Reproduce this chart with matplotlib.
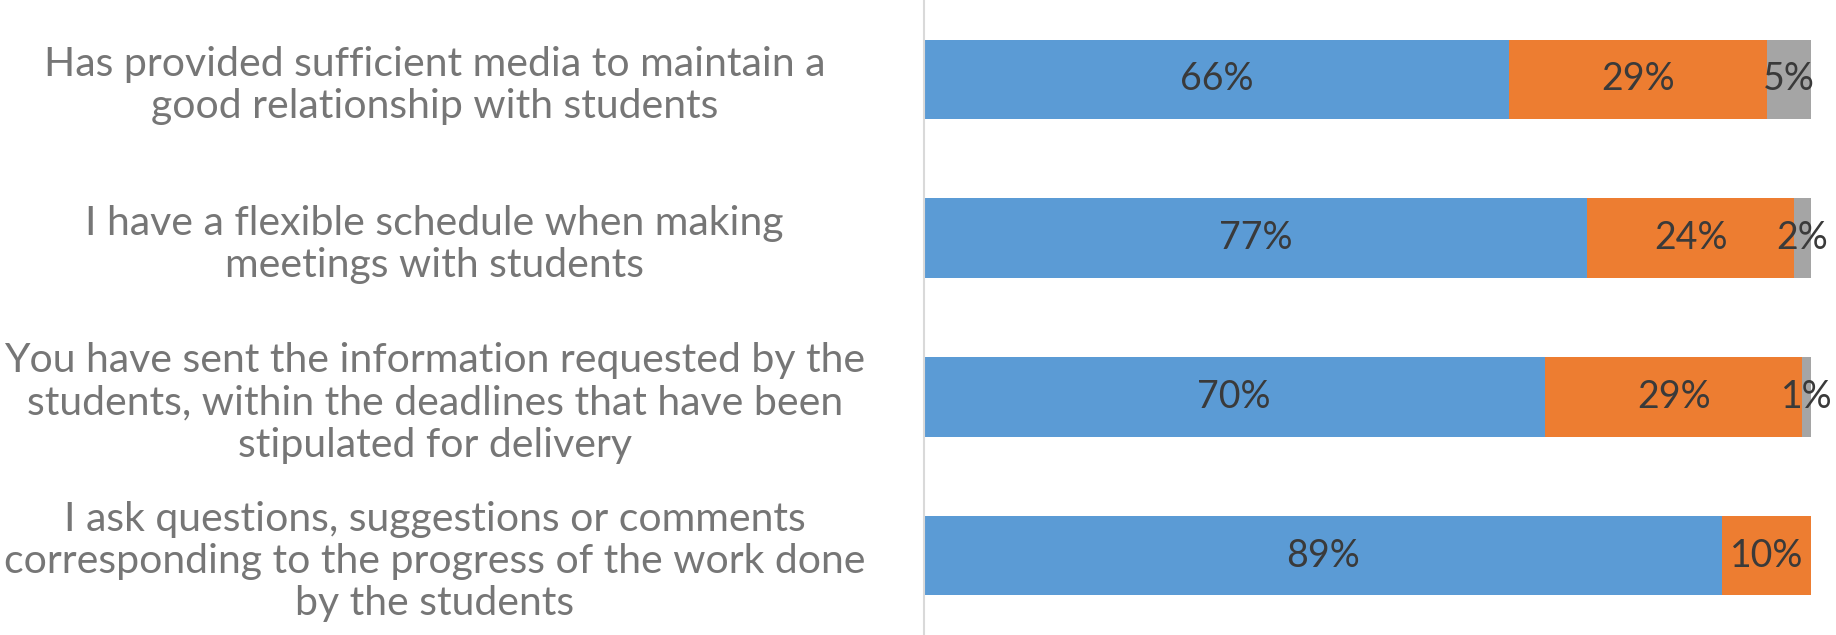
import matplotlib.pyplot as plt
import numpy as np

# ---- data (percent of answers)
questions = [
    "Has provided sufficient media to maintain a\ngood relationship with students",
    "I have a flexible schedule when making\nmeetings with students",
    "You have sent the information requested by the\nstudents, within the deadlines that have been\nstipulated for delivery",
    "I ask questions, suggestions or comments\ncorresponding to the progress of the work done\nby the students",
]
always = [66, 77, 70, 89]
sometimes = [29, 24, 29, 10]
never = [5, 2, 1, 0]

plt.rcParams['font.family'] = ['Lato', 'DejaVu Sans']

fig = plt.figure(figsize=(18.36, 6.35), dpi=100)
ax = fig.add_axes([0.503, 0.0, 0.4835, 1.0])

# ---- 100% stacked: widths normalised by the row total, labels keep raw values
series = [np.array(always, float), np.array(sometimes, float), np.array(never, float)]
colors = ['#5B9BD5', '#ED7D31', '#A5A5A5']
totals = series[0] + series[1] + series[2]
y = np.arange(len(questions))
left = np.zeros(len(questions))
for vals, col in zip(series, colors):
    width = vals / totals * 100
    ax.barh(y, width, left=left, height=0.5, color=col, edgecolor='none')
    for yi, l, w, v in zip(y, left, width, vals):
        if v > 0:
            ax.text(l + w / 2, yi, str(int(v)) + "%", ha='center', va='center',
                    fontsize=27, color='#3A3A3A')
    left = left + width

ax.set_xlim(0, 100)
ax.set_ylim(len(questions) - 0.5, -0.5)
ax.set_xticks([])
ax.set_yticks(y)
ax.set_yticklabels(questions, fontsize=29.5, color='#767676', ha='center',
                   multialignment='center', linespacing=1.17)
ax.tick_params(axis='y', length=0, pad=352)
for s in ['top', 'right', 'bottom']:
    ax.spines[s].set_visible(False)
ax.spines['left'].set_color('#D9D9D9')
ax.spines['left'].set_linewidth(1.5)

fig.savefig("out.png", dpi=100)
